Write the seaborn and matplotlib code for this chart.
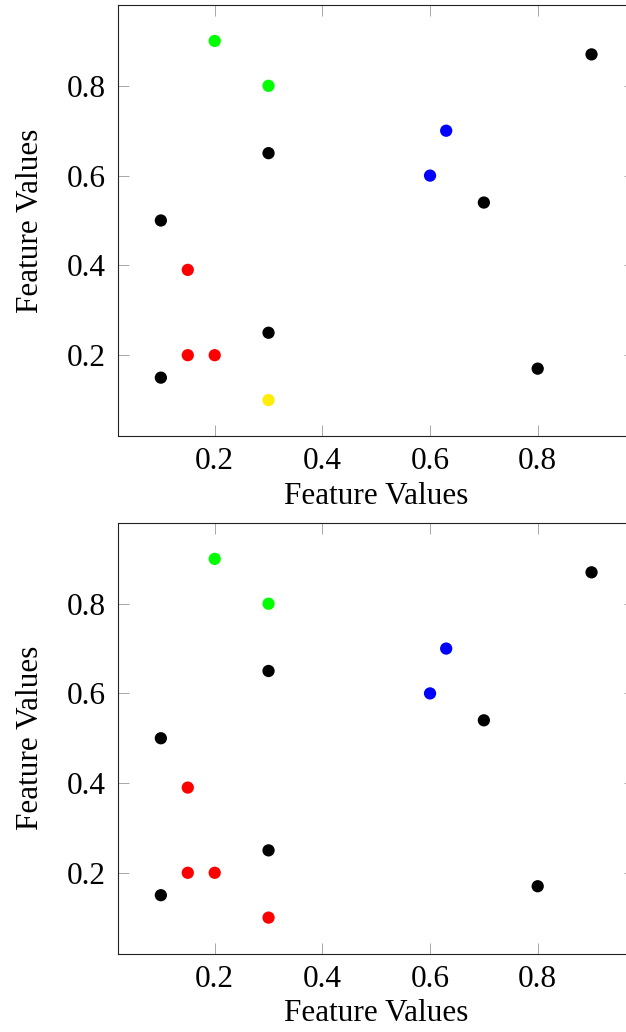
"""Two stacked feature scatters (pgfplots look, serif text)."""

import matplotlib.pyplot as plt
import pandas as pd
import seaborn as sns

sns.set_theme(style="ticks")
plt.rcParams.update(
    {
        "font.family": ["Liberation Serif", "DejaVu Serif"],
        "mathtext.fontset": "stix",
        "axes.edgecolor": "#222222",
        "axes.linewidth": 0.8,
        "axes.labelcolor": "black",
        "text.color": "black",
        "xtick.color": "#999999",
        "ytick.color": "#999999",
        "xtick.labelcolor": "black",
        "ytick.labelcolor": "black",
    }
)

# shared points
X = [0.2, 0.3, 0.9, 0.63, 0.6, 0.3, 0.7, 0.1, 0.15, 0.3, 0.15, 0.2, 0.1, 0.8, 0.3]
Y = [0.9, 0.8, 0.87, 0.7, 0.6, 0.65, 0.54, 0.5, 0.39, 0.25, 0.2, 0.2, 0.15, 0.17, 0.1]
GROUP_TOP = ["g", "g", "k", "b", "b", "k", "k", "k", "r", "k", "r", "r", "k", "k", "y"]
GROUP_BOTTOM = ["g", "g", "k", "b", "b", "k", "k", "k", "r", "k", "r", "r", "k", "k", "r"]
PALETTE = {"g": "#00ff00", "b": "#0000ff", "r": "#ff0000", "k": "#000000", "y": "#ffee00"}
XTICKS = [0.2, 0.4, 0.6, 0.8]
YTICKS = [0.2, 0.4, 0.6, 0.8]

W, H = 626, 1032
fig = plt.figure(figsize=(W / 100, H / 100), dpi=100)

# axes boxes in pixels: left, top, right, bottom (right edge runs past the image)
boxes = [(117.8, 5.0, 634.6, 436.0), (117.8, 523.0, 634.6, 953.5)]

for (l, t, r, b), groups in zip(boxes, [GROUP_TOP, GROUP_BOTTOM]):
    ax = fig.add_axes([l / W, 1 - b / H, (r - l) / W, (b - t) / H])
    df = pd.DataFrame({"x": X, "y": Y, "g": groups})
    sns.scatterplot(
        data=df, x="x", y="y", hue="g", palette=PALETTE, s=78,
        linewidth=0, legend=False, ax=ax,
    )
    ax.set_xlim(0.02, 0.98)
    ax.set_ylim(0.02, 0.98)
    ax.set_xticks(XTICKS)
    ax.set_yticks(YTICKS)
    ax.set_xticklabels([f"{v:g}" for v in XTICKS])
    ax.set_yticklabels([f"{v:g}" for v in YTICKS])
    ax.tick_params(
        direction="in", length=8, width=0.6, labelsize=22.5,
        top=True, right=True, pad=8,
    )
    ax.tick_params(axis="y", pad=9)
    ax.set_xlabel("Feature Values", fontsize=22.5, labelpad=4)
    ax.set_ylabel("Feature Values", fontsize=22.5, labelpad=15)
    for s in ax.spines.values():
        s.set_visible(True)

fig.savefig("out.png", dpi=100)
